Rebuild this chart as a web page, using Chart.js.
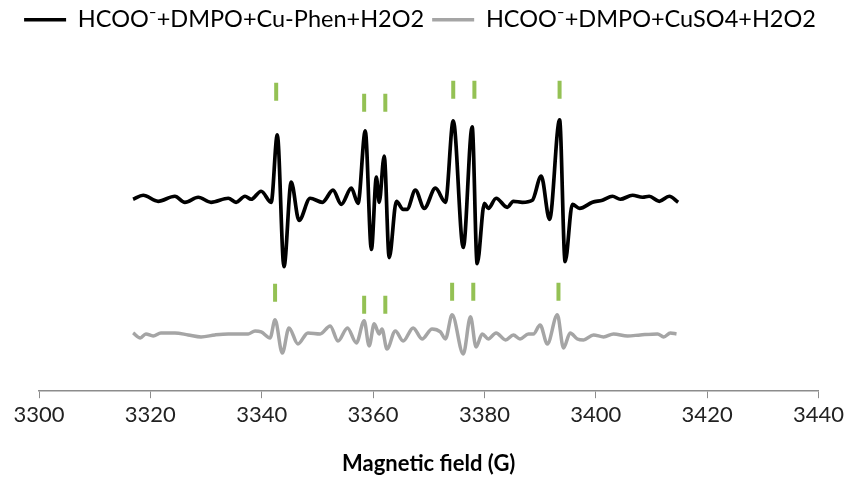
<!DOCTYPE html>
<html>
<head>
<meta charset="utf-8">
<script src="https://cdn.jsdelivr.net/npm/chart.js@4.4.1/dist/chart.umd.min.js"></script>
<style>
  html, body { margin: 0; padding: 0; background: #fff; }
  #wrap { width: 848px; height: 481px; }
</style>
</head>
<body>
<div id="wrap"><canvas id="chart"></canvas></div>
<script>
// spectra (arbitrary intensity units, traces are offset)
const fieldPhen = [3316.9, 3318.7, 3321.4, 3324.4, 3326.2, 3328.6, 3330.9, 3334.0, 3335.4, 3337.0, 3338.1, 3339.9, 3341.7, 3342.8, 3344.0, 3345.3, 3346.7, 3348.7, 3350.9, 3352.8, 3354.3, 3356.1, 3357.3, 3358.6, 3359.7, 3360.6, 3361.1, 3362.0, 3362.9, 3364.2, 3365.4, 3366.1, 3367.6, 3369.2, 3371.2, 3373.0, 3374.4, 3376.2, 3377.8, 3378.7, 3380.0, 3380.7, 3382.1, 3384.1, 3385.2, 3386.8, 3388.6, 3390.2, 3391.7, 3393.5, 3394.5, 3395.8, 3397.1, 3399.4, 3401.2, 3403.0, 3404.4, 3406.6, 3408.4, 3409.6, 3411.4, 3413.2, 3414.8];
const signalPhen = [191, 195, 189, 194, 188, 193, 188, 192, 188, 194, 191, 199, 188, 255, 124, 208, 170, 192, 188, 200, 186, 202, 187, 259, 141, 213, 188, 234, 133, 189, 181, 181, 200, 182, 202, 188, 269, 143, 263, 127, 187, 182, 192, 183, 189, 188, 190, 214, 171, 270, 129, 186, 182, 188, 190, 194, 191, 195, 193, 194, 189, 194, 188];

const fieldCuSO4 = [3316.9, 3318.2, 3319.2, 3320.5, 3321.9, 3324.4, 3326.8, 3329.1, 3331.6, 3334.0, 3336.3, 3337.6, 3338.8, 3339.9, 3341.5, 3342.4, 3343.7, 3344.9, 3346.5, 3348.3, 3350.5, 3352.3, 3353.7, 3355.4, 3357.0, 3358.4, 3359.3, 3360.2, 3361.1, 3361.6, 3362.5, 3364.0, 3365.4, 3367.2, 3368.8, 3370.6, 3372.1, 3373.0, 3374.2, 3376.2, 3377.5, 3378.5, 3379.6, 3380.7, 3382.1, 3383.8, 3385.2, 3386.4, 3387.9, 3388.8, 3390.0, 3391.3, 3393.1, 3394.2, 3395.4, 3396.7, 3397.8, 3399.6, 3401.4, 3403.2, 3405.7, 3408.0, 3411.1, 3412.2, 3413.4, 3414.5];
const signalCuSO4 = [58, 53, 57, 55, 58, 58, 56, 54, 56, 57, 57, 57, 60, 59, 53, 71, 38, 63, 47, 58, 57, 65, 50, 63, 48, 70, 45, 67, 57, 62, 42, 60, 50, 63, 52, 62, 59, 52, 76, 37, 74, 44, 57, 52, 58, 51, 56, 52, 57, 57, 66, 47, 76, 43, 58, 52, 51, 56, 54, 57, 55, 56, 57, 54, 58, 57];

// green line markers above the adduct lines
const markFieldTop = [3342.6, 3358.4, 3362.2, 3374.4, 3378.2, 3393.5];
const markLevelTop = [298, 287, 287, 300, 300, 300];
const markFieldBottom = [3342.4, 3358.4, 3362.2, 3374.2, 3378.0, 3393.3];
const markLevelBottom = [98, 86, 86, 99, 99, 99];

const xTicks = [3300, 3320, 3340, 3360, 3380, 3400, 3420, 3440];

const toPoints = (xs, ys) => xs.map((x, i) => ({ x, y: ys[i] }));

const FONT = 'Lato, "Liberation Sans", sans-serif';
const GREEN = '#94C154';

new Chart(document.getElementById('chart'), {
    type: 'line',
    data: {
        datasets: [
            { label: 'HCOO⁻+DMPO+Cu-Phen+H2O2', data: toPoints(fieldPhen, signalPhen),
              borderColor: '#000', borderWidth: 3.7, pointRadius: 0, cubicInterpolationMode: 'monotone' },
            { label: 'HCOO⁻+DMPO+CuSO4+H2O2', data: toPoints(fieldCuSO4, signalCuSO4),
              borderColor: '#A5A5A5', borderWidth: 3.5, pointRadius: 0, cubicInterpolationMode: 'monotone' },
            { label: 'markTop', data: toPoints(markFieldTop, markLevelTop), showLine: false,
              pointStyle: 'line', rotation: 90, pointRadius: 9, pointBorderWidth: 4, borderColor: GREEN, pointBorderColor: GREEN },
            { label: 'markBottom', data: toPoints(markFieldBottom, markLevelBottom), showLine: false,
              pointStyle: 'line', rotation: 90, pointRadius: 9, pointBorderWidth: 4, borderColor: GREEN, pointBorderColor: GREEN }
        ]
    },
    options: {
        responsive: true,
        maintainAspectRatio: false,
        animation: false,
        layout: { padding: { left: 0, right: 8, top: 0, bottom: 0 } },
        plugins: {
            tooltip: { enabled: false },
            legend: {
                position: 'top',
                labels: {
                    filter: item => !item.text.startsWith('mark'),
                    usePointStyle: true, pointStyle: 'line', pointStyleWidth: 42, boxHeight: 3,
                    color: '#000', font: { family: FONT, size: 23.5 }, padding: 8
                }
            }
        },
        scales: {
            x: {
                type: 'linear', min: 3300, max: 3440,
                afterBuildTicks: axis => { axis.ticks = xTicks.map(v => ({ value: v })); },
                grid: { drawOnChartArea: false, drawTicks: true, tickLength: 7, color: '#8C8C8C' },
                border: { display: true, color: '#8C8C8C', width: 1.5 },
                ticks: { color: '#222', font: { family: FONT, size: 22 }, padding: 4, maxRotation: 0,
                         callback: v => String(v) },
                title: { display: true, text: 'Magnetic field (G)', color: '#000',
                         font: { family: FONT, size: 22, weight: 'bold' }, padding: { top: 18 } }
            },
            // hidden axis, only reserves the left margin
            y: { display: true, min: 0, max: 348,
                 ticks: { display: false }, grid: { display: false }, border: { display: false },
                 afterFit: s => { s.width = 39; } }
        }
    }
});
</script>
</body>
</html>
